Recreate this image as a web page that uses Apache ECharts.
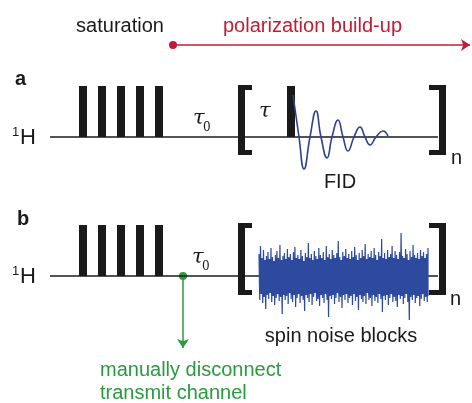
<!DOCTYPE html>
<html><head><meta charset="utf-8">
<script src="https://cdn.jsdelivr.net/npm/echarts@6/dist/echarts.min.js"></script>
<style>html,body{margin:0;padding:0;background:#fff}#c{width:472px;height:403px}</style>
</head><body><div id="c"></div>
<script>
// ---- data (diagram timeline units) ----
const baselineA = 137, baselineB = 276;
const pulseTopA = 86, pulseTopB = 225;
const saturationPulses = [79, 98, 117, 136, 155];
const readPulseA = [287];
const seqStart = 50, seqEnd = 438;
const bracketX = [238, 446];
const bracketYA = [85, 155], bracketYB = [223, 295];
const fidX   = [293, 299, 304, 310, 316, 321, 327, 332, 338, 343, 348, 354, 360, 365, 370, 376, 383, 388];
const fidAmp = [ 42,   0, -32,   0,  26,   0, -21,   0,  17,   0, -14,   0,  10,   0,  -8,   0,   6,   1];
const noiseRange = [259, 428];
const noiseUp = [22,30,18,26,16,20,24,17,28,19,15,21,25,18,31,16,20,23,17,27,19,22,16,24,29,18,21,17,26,20,15,23,19,33,18,22,16,25,20,17,28,21,18,24,16,30,19,22,17,26,21,18,23,35,19,16,24,20,27,18,22,17,25,19,29,21,16,23,18,26,20,32,17,22,19,25,18,28,21,16,24,20,37,18,23,17,26,19,22,30,18,25,21,17,24,43,20,18,27,22,16,25,19,31,21,18,23,17,26,20,24,18,22,28];
const noiseDown = [24,18,27,21,33,19,23,17,26,20,29,22,18,25,21,38,19,24,20,28,17,23,26,19,31,22,18,27,20,24,35,19,22,26,18,29,21,17,25,23,30,19,22,27,18,24,41,20,23,19,28,22,17,26,21,32,19,24,18,27,22,20,29,18,25,21,34,19,23,26,20,28,17,24,22,30,19,25,21,27,18,23,36,20,24,19,29,22,18,26,21,25,31,19,23,20,28,22,18,26,44,21,24,19,27,22,20,30,23,18,25,21,26,20];
const buildUpArrow = [[173, 45], [470, 45]];
const disconnectArrow = [[183, 276], [183, 348]];

// ---- build series data ----
const pulses = [];
saturationPulses.forEach(x => { pulses.push([x, baselineA, pulseTopA]); pulses.push([x, baselineB, pulseTopB]); });
readPulseA.forEach(x => pulses.push([x, baselineA, pulseTopA]));
const brackets = [[bracketX[0], bracketX[1], bracketYA[0], bracketYA[1]], [bracketX[0], bracketX[1], bracketYB[0], bracketYB[1]]];
const fidData = fidX.map((x, i) => [x, baselineA - fidAmp[i]]);
const nN = Math.min(noiseUp.length, noiseDown.length);
const step = (noiseRange[1] - noiseRange[0]) / (nN - 1);
const noiseData = [];
const coreUp = [], coreDown = [];
for (let i = 0; i < nN; i++) {
  const x = noiseRange[0] + i * step;
  noiseData.push([x, baselineB - noiseUp[i]]);
  noiseData.push([Math.min(x + step / 2, noiseRange[1]), baselineB + noiseDown[i]]);
  const a = Math.max(0, i - 1), b = Math.min(nN - 1, i + 1);
  coreUp.push([x, baselineB - Math.min(noiseUp[a], noiseUp[i], noiseUp[b])]);
  coreDown.push([x, baselineB + Math.min(noiseDown[a], noiseDown[i], noiseDown[b])]);
}
const corePoly = coreUp.concat(coreDown.slice().reverse());

const INK = '#1a1a1a', RED = '#c41a35', GREEN = '#2a9a3e', BLUE = '#2d4a9f', FIDBLUE = '#2f3f96';
const sans = '"Liberation Sans", Arial, sans-serif';
const serif = '"DejaVu Serif", serif';
function txt(x, y, text, opt) {
  return { type: 'text', x: x, y: y, silent: true, style: Object.assign({ text: text, fill: INK, font: '20px ' + sans, align: 'left', verticalAlign: 'middle' }, opt || {}) };
}
const graphics = [
  txt(120, 26, 'saturation', { align: 'center' }),
  txt(223, 26, 'polarization build-up', { fill: RED }),
  txt(15, 79, 'a', { font: 'bold 20px ' + sans }),
  txt(17, 219, 'b', { font: 'bold 20px ' + sans }),
  txt(12, 132, '1', { font: '13px ' + sans }),
  txt(20, 138, 'H', { font: '22px ' + sans }),
  txt(12, 271, '1', { font: '13px ' + sans }),
  txt(20, 277, 'H', { font: '22px ' + sans }),
  txt(193, 119, 'τ', { font: 'italic 21px ' + serif }),
  txt(203, 128, '0', { font: '12px ' + serif }),
  txt(192, 258, 'τ', { font: 'italic 21px ' + serif }),
  txt(202, 267, '0', { font: '12px ' + serif }),
  txt(259, 112, 'τ', { font: 'italic 21px ' + serif }),
  txt(451, 158, 'n', { font: '20px ' + sans }),
  txt(450, 299, 'n', { font: '20px ' + sans }),
  txt(340, 182, 'FID', { align: 'center' }),
  txt(341, 336, 'spin noise blocks', { align: 'center' }),
  txt(100, 370, 'manually disconnect', { fill: GREEN }),
  txt(100, 393, 'transmit channel', { fill: GREEN })
];

const chart = echarts.init(document.getElementById('c'), null, { renderer: 'canvas' });
chart.setOption({
  animation: false,
  backgroundColor: '#fff',
  grid: { left: 0, right: 0, top: 0, bottom: 0 },
  xAxis: { type: 'value', min: 0, max: 472, show: false },
  yAxis: { type: 'value', min: 0, max: 403, inverse: true, show: false },
  graphic: graphics,
  series: [
    { type: 'line', data: [[seqStart, baselineA], [seqEnd, baselineA]], symbol: 'none', lineStyle: { color: INK, width: 1.5 }, silent: true },
    { type: 'line', data: [[seqStart, baselineB], [seqEnd, baselineB]], symbol: 'none', lineStyle: { color: INK, width: 1.5 }, silent: true },
    { type: 'custom', data: pulses, silent: true,
      renderItem: function (params, api) {
        const p0 = api.coord([api.value(0), api.value(2)]);
        const p1 = api.coord([api.value(0) + 8, api.value(1)]);
        return { type: 'rect', shape: { x: p0[0], y: p0[1], width: p1[0] - p0[0], height: p1[1] - p0[1] }, style: { fill: INK } };
      } },
    { type: 'custom', data: brackets, silent: true,
      renderItem: function (params, api) {
        const tl = api.coord([api.value(0), api.value(2)]);
        const br = api.coord([api.value(1), api.value(3)]);
        const h = br[1] - tl[1], sw = 7, tw = 14, th = 5;
        const f = { fill: INK };
        return { type: 'group', children: [
          { type: 'rect', shape: { x: tl[0], y: tl[1], width: sw, height: h }, style: f },
          { type: 'rect', shape: { x: tl[0], y: tl[1], width: tw, height: th }, style: f },
          { type: 'rect', shape: { x: tl[0], y: br[1] - th, width: tw, height: th }, style: f },
          { type: 'rect', shape: { x: br[0] - sw, y: tl[1], width: sw, height: h }, style: f },
          { type: 'rect', shape: { x: br[0] - tw - 3, y: tl[1], width: tw + 3, height: th }, style: f },
          { type: 'rect', shape: { x: br[0] - tw - 3, y: br[1] - th, width: tw + 3, height: th }, style: f }
        ] };
      } },
    { type: 'line', data: fidData, smooth: 0.5, symbol: 'none', lineStyle: { color: FIDBLUE, width: 1.6 }, silent: true },
    { type: 'custom', data: [0], silent: true,
      renderItem: function (params, api) {
        return { type: 'polygon', shape: { points: corePoly.map(p => api.coord(p)) }, style: { fill: BLUE } };
      } },
    { type: 'line', data: noiseData, symbol: 'none', lineStyle: { color: BLUE, width: 1.2 }, silent: true },
    { type: 'lines', coordinateSystem: 'cartesian2d', silent: true,
      symbol: ['circle', 'arrow'], symbolSize: [8, 9],
      lineStyle: { color: RED, width: 1.5, opacity: 1, curveness: 0 },
      data: [{ coords: buildUpArrow }] },
    { type: 'lines', coordinateSystem: 'cartesian2d', silent: true,
      symbol: ['circle', 'arrow'], symbolSize: [8, 9],
      lineStyle: { color: GREEN, width: 1.5, opacity: 1, curveness: 0 },
      data: [{ coords: disconnectArrow }] }
  ]
});
</script>
</body></html>
